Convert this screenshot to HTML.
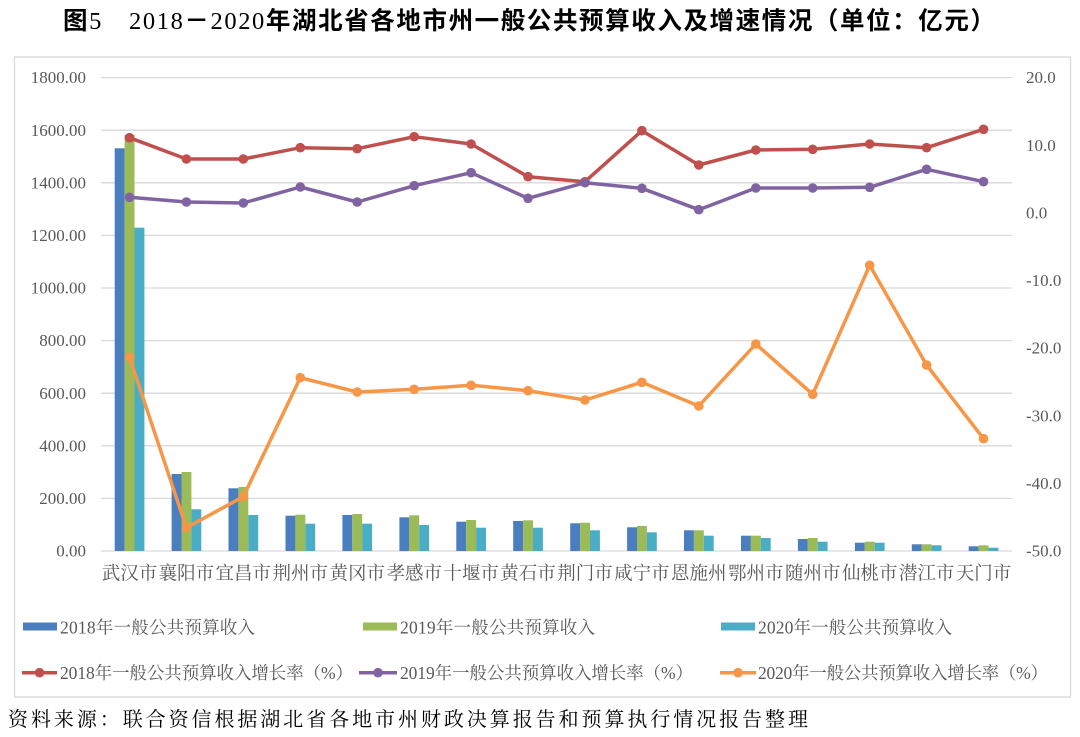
<!DOCTYPE html>
<html><head><meta charset="utf-8">
<style>
html,body{margin:0;padding:0;background:#fff;}
svg{display:block;}
.ax{font-family:"Liberation Serif","Noto Serif CJK SC",serif;font-size:17px;fill:#595959;}
.cat{font-family:"Liberation Serif","Noto Serif CJK SC",serif;font-size:18.5px;fill:#595959;}
.lg{font-family:"Liberation Serif","Noto Serif CJK SC",serif;font-size:17.5px;fill:#595959;}
</style></head>
<body>
<svg width="1080" height="737" viewBox="0 0 1080 737" xmlns="http://www.w3.org/2000/svg">
<defs>
<marker id="mr" viewBox="0 0 10 10" refX="5" refY="5" markerWidth="9.6" markerHeight="9.6" markerUnits="userSpaceOnUse"><circle cx="5" cy="5" r="5" fill="#c0504d"/></marker>
<marker id="mp" viewBox="0 0 10 10" refX="5" refY="5" markerWidth="9.6" markerHeight="9.6" markerUnits="userSpaceOnUse"><circle cx="5" cy="5" r="5" fill="#8064a2"/></marker>
<marker id="mo" viewBox="0 0 10 10" refX="5" refY="5" markerWidth="9.6" markerHeight="9.6" markerUnits="userSpaceOnUse"><circle cx="5" cy="5" r="5" fill="#f79646"/></marker>
</defs>
<rect width="1080" height="737" fill="#fff"/>
<!-- Title -->
<text x="63" y="29" textLength="932" lengthAdjust="spacing" font-size="24.5" fill="#000"><tspan font-family="Noto Sans CJK SC,sans-serif" font-weight="bold">图</tspan><tspan font-family="Liberation Serif,serif">5　2018</tspan><tspan font-family="Noto Sans CJK SC,sans-serif" font-weight="bold">－</tspan><tspan font-family="Liberation Serif,serif">2020</tspan><tspan font-family="Noto Sans CJK SC,sans-serif" font-weight="bold">年湖北省各地市州一般公共预算收入及增速情况（单位：亿元）</tspan></text>
<!-- chart border -->
<rect x="14.5" y="57" width="1056" height="640" fill="#fff" stroke="#d9d9d9" stroke-width="1.3"/>
<!-- gridlines -->
<g stroke="#d9d9d9" stroke-width="1.3">
<line x1="101" x2="1012" y1="77.6" y2="77.6"/>
<line x1="101" x2="1012" y1="130.2" y2="130.2"/>
<line x1="101" x2="1012" y1="182.8" y2="182.8"/>
<line x1="101" x2="1012" y1="235.4" y2="235.4"/>
<line x1="101" x2="1012" y1="288" y2="288"/>
<line x1="101" x2="1012" y1="340.6" y2="340.6"/>
<line x1="101" x2="1012" y1="393.2" y2="393.2"/>
<line x1="101" x2="1012" y1="445.8" y2="445.8"/>
<line x1="101" x2="1012" y1="498.4" y2="498.4"/>
<line x1="101" x2="1012" y1="551" y2="551"/>
</g>
<!-- left axis labels -->
<g class="ax" text-anchor="end">
<text x="86" y="83.2">1800.00</text>
<text x="86" y="135.8">1600.00</text>
<text x="86" y="188.4">1400.00</text>
<text x="86" y="241">1200.00</text>
<text x="86" y="293.6">1000.00</text>
<text x="86" y="346.2">800.00</text>
<text x="86" y="398.8">600.00</text>
<text x="86" y="451.4">400.00</text>
<text x="86" y="504">200.00</text>
<text x="86" y="556.6">0.00</text>
</g>
<!-- right axis labels -->
<g class="ax" text-anchor="start">
<text x="1026" y="83.2">20.0</text>
<text x="1026" y="150.8">10.0</text>
<text x="1026" y="218.5">0.0</text>
<text x="1026" y="286.1">-10.0</text>
<text x="1026" y="353.7">-20.0</text>
<text x="1026" y="421.3">-30.0</text>
<text x="1026" y="489">-40.0</text>
<text x="1026" y="556.6">-50.0</text>
</g>
<!-- bars -->
<g fill="#4a7ebf">
<rect x="114.7" y="148.3" width="9.9" height="402.7"/>
<rect x="171.6" y="474" width="9.9" height="77"/>
<rect x="228.5" y="488.3" width="9.9" height="62.7"/>
<rect x="285.5" y="515.7" width="9.9" height="35.3"/>
<rect x="342.4" y="515" width="9.9" height="36"/>
<rect x="399.4" y="517.3" width="9.9" height="33.7"/>
<rect x="456.3" y="521.7" width="9.9" height="29.3"/>
<rect x="513.2" y="521" width="9.9" height="30"/>
<rect x="570.2" y="523.3" width="9.9" height="27.7"/>
<rect x="627.1" y="527.3" width="9.9" height="23.7"/>
<rect x="684" y="530.3" width="9.9" height="20.7"/>
<rect x="741" y="535.7" width="9.9" height="15.3"/>
<rect x="797.9" y="539" width="9.9" height="12"/>
<rect x="854.9" y="542.7" width="9.9" height="8.3"/>
<rect x="911.8" y="544.3" width="9.9" height="6.7"/>
<rect x="968.7" y="546.3" width="9.9" height="4.7"/>
</g>
<g fill="#9bbb59">
<rect x="124.6" y="135" width="9.9" height="416"/>
<rect x="181.5" y="472" width="9.9" height="79"/>
<rect x="238.4" y="487" width="9.9" height="64"/>
<rect x="295.4" y="514.7" width="9.9" height="36.3"/>
<rect x="352.3" y="514" width="9.9" height="37"/>
<rect x="409.3" y="515.3" width="9.9" height="35.7"/>
<rect x="466.2" y="520" width="9.9" height="31"/>
<rect x="523.1" y="520.3" width="9.9" height="30.7"/>
<rect x="580.1" y="522.7" width="9.9" height="28.3"/>
<rect x="637" y="526" width="9.9" height="25"/>
<rect x="693.9" y="530.3" width="9.9" height="20.7"/>
<rect x="750.9" y="535.7" width="9.9" height="15.3"/>
<rect x="807.8" y="538" width="9.9" height="13"/>
<rect x="864.8" y="541.7" width="9.9" height="9.3"/>
<rect x="921.7" y="544.3" width="9.9" height="6.7"/>
<rect x="978.6" y="545.3" width="9.9" height="5.7"/>
</g>
<g fill="#4bacc6">
<rect x="134.5" y="227.7" width="9.9" height="323.3"/>
<rect x="191.4" y="509.3" width="9.9" height="41.7"/>
<rect x="248.3" y="515" width="9.9" height="36"/>
<rect x="305.3" y="523.7" width="9.9" height="27.3"/>
<rect x="362.2" y="523.7" width="9.9" height="27.3"/>
<rect x="419.2" y="525" width="9.9" height="26"/>
<rect x="476.1" y="527.7" width="9.9" height="23.3"/>
<rect x="533" y="527.7" width="9.9" height="23.3"/>
<rect x="590" y="530.3" width="9.9" height="20.7"/>
<rect x="646.9" y="532.3" width="9.9" height="18.7"/>
<rect x="703.8" y="535.7" width="9.9" height="15.3"/>
<rect x="760.8" y="538" width="9.9" height="13"/>
<rect x="817.7" y="541.7" width="9.9" height="9.3"/>
<rect x="874.7" y="542.7" width="9.9" height="8.3"/>
<rect x="931.6" y="545.3" width="9.9" height="5.7"/>
<rect x="988.5" y="547.7" width="9.9" height="3.3"/>
</g>
<!-- lines -->
<polyline fill="none" stroke="#c0504d" stroke-width="3.5" stroke-linejoin="round" marker-start="url(#mr)" marker-mid="url(#mr)" marker-end="url(#mr)"
 points="129.5,137.7 186.4,159 243.3,159 300.3,147.7 357.2,148.7 414.2,136.7 471.1,144 528,176.7 585,181.7 641.9,130.7 698.8,165 755.8,150 812.7,149.3 869.7,144 926.6,147.7 983.5,129.3"/>
<polyline fill="none" stroke="#8064a2" stroke-width="3.5" stroke-linejoin="round" marker-start="url(#mp)" marker-mid="url(#mp)" marker-end="url(#mp)"
 points="129.5,197.3 186.4,202 243.3,203 300.3,187 357.2,202 414.2,185.7 471.1,172.7 528,198.3 585,182.7 641.9,188.3 698.8,209.7 755.8,188 812.7,188 869.7,187.3 926.6,169.3 983.5,181.7"/>
<polyline fill="none" stroke="#f79646" stroke-width="3.5" stroke-linejoin="round" marker-start="url(#mo)" marker-mid="url(#mo)" marker-end="url(#mo)"
 points="129.5,357.3 186.4,527.7 243.3,496.7 300.3,377.7 357.2,392 414.2,389.3 471.1,385.3 528,390.7 585,400 641.9,382.3 698.8,406 755.8,344 812.7,394.3 869.7,265.3 926.6,365 983.5,438.7"/>
<!-- category labels -->
<g class="cat" text-anchor="middle">
<text x="129.5" y="579.5">武汉市</text>
<text x="186.4" y="579.5">襄阳市</text>
<text x="243.3" y="579.5">宜昌市</text>
<text x="300.3" y="579.5">荆州市</text>
<text x="357.2" y="579.5">黄冈市</text>
<text x="414.2" y="579.5">孝感市</text>
<text x="471.1" y="579.5">十堰市</text>
<text x="528" y="579.5">黄石市</text>
<text x="585" y="579.5">荆门市</text>
<text x="641.9" y="579.5">咸宁市</text>
<text x="698.8" y="579.5">恩施州</text>
<text x="755.8" y="579.5">鄂州市</text>
<text x="812.7" y="579.5">随州市</text>
<text x="869.7" y="579.5">仙桃市</text>
<text x="926.6" y="579.5">潜江市</text>
<text x="983.5" y="579.5">天门市</text>
</g>
<!-- legend row 1 -->
<rect x="23" y="622.5" width="34" height="8" fill="#4a7ebf"/>
<text class="lg" x="60" y="633.5" textLength="195" lengthAdjust="spacing">2018年一般公共预算收入</text>
<rect x="363" y="622.5" width="34" height="8" fill="#9bbb59"/>
<text class="lg" x="400" y="633.5" textLength="195" lengthAdjust="spacing">2019年一般公共预算收入</text>
<rect x="721" y="622.5" width="34" height="8" fill="#4bacc6"/>
<text class="lg" x="758" y="633.5" textLength="194" lengthAdjust="spacing">2020年一般公共预算收入</text>
<!-- legend row 2 -->
<line x1="22" x2="57" y1="672.7" y2="672.7" stroke="#c0504d" stroke-width="3.5"/>
<circle cx="39.5" cy="672.7" r="4.8" fill="#c0504d"/>
<text class="lg" x="60" y="679" textLength="293" lengthAdjust="spacing">2018年一般公共预算收入增长率（%）</text>
<line x1="359" x2="397" y1="672.7" y2="672.7" stroke="#8064a2" stroke-width="3.5"/>
<circle cx="378" cy="672.7" r="4.8" fill="#8064a2"/>
<text class="lg" x="400" y="679" textLength="293" lengthAdjust="spacing">2019年一般公共预算收入增长率（%）</text>
<line x1="720" x2="756" y1="672.7" y2="672.7" stroke="#f79646" stroke-width="3.5"/>
<circle cx="738" cy="672.7" r="4.8" fill="#f79646"/>
<text class="lg" x="758" y="679" textLength="290" lengthAdjust="spacing">2020年一般公共预算收入增长率（%）</text>
<!-- footer -->
<text x="8" y="726" textLength="800" lengthAdjust="spacing" font-family="Liberation Serif, Noto Serif CJK SC, serif" font-size="20" fill="#000">资料来源：联合资信根据湖北省各地市州财政决算报告和预算执行情况报告整理</text>
</svg>
</body></html>
